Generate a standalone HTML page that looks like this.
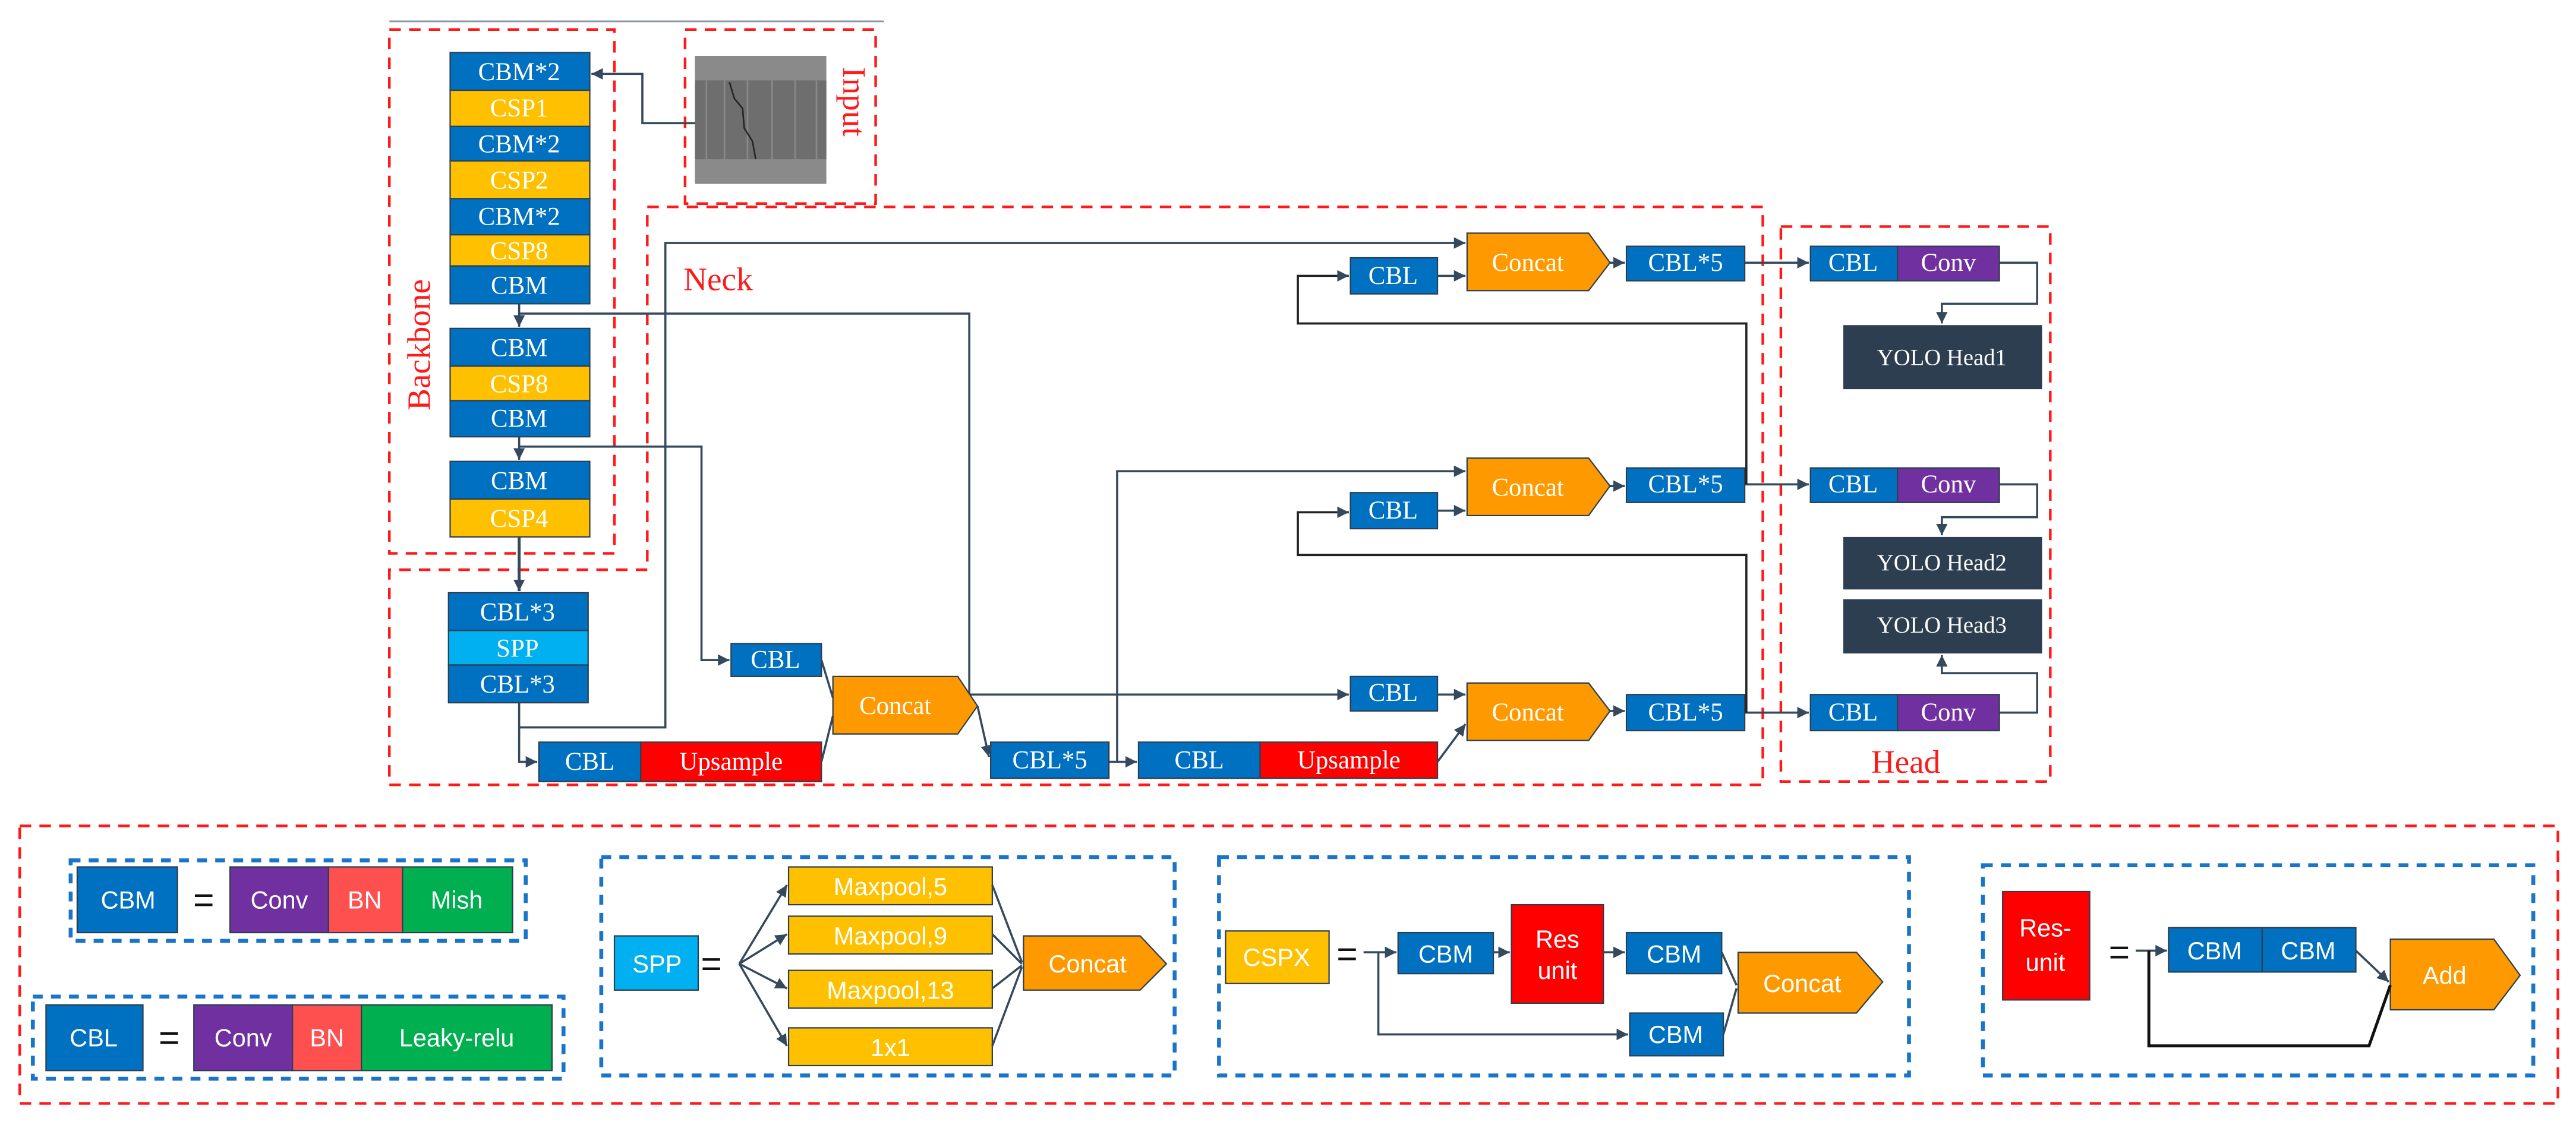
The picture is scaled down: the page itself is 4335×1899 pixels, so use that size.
<!DOCTYPE html>
<html><head><meta charset="utf-8"><style>
html,body{margin:0;padding:0;background:#fff;}
svg{display:block;}
.t{font-family:"Liberation Serif",serif;fill:#fff;text-anchor:middle;dominant-baseline:central;font-size:15.5px;}
.s{font-family:"Liberation Sans",sans-serif;fill:#fff;text-anchor:middle;dominant-baseline:central;font-size:15px;}
.ln{stroke:#34495e;stroke-width:1.3;fill:none;}
.rd{stroke:#ff1a1a;stroke-width:1.6;fill:none;stroke-dasharray:7,5;}
.bd{stroke:#1a75c9;stroke-width:2.4;fill:none;stroke-dasharray:6,5;}
.bk{stroke:#2c3e50;stroke-width:0.8;}
</style></head><body>
<svg width="4335" height="1899" viewBox="0 0 1568 687" preserveAspectRatio="none" xmlns="http://www.w3.org/2000/svg">
<defs>
<marker id="a" markerUnits="userSpaceOnUse" markerWidth="8" markerHeight="8" refX="7" refY="4" orient="auto"><path d="M0,0.5 L7,4 L0,7.5 Z" fill="#34495e"/></marker>
</defs>
<rect width="1568" height="687" fill="#fff"/>
<line x1="237" y1="13" x2="538" y2="13" stroke="#8a96a3" stroke-width="1"/>
<rect class="rd" x="237" y="18" width="137" height="319"/>
<rect class="rd" x="417" y="18" width="116" height="106"/>
<polygon class="rd" points="394,126 1073,126 1073,478 237,478 237,347 394,347"/>
<rect class="rd" x="1084" y="138" width="164" height="338"/>
<rect class="rd" x="12" y="503" width="1545" height="169"/>
<text x="255" y="210" transform="rotate(-90 255 210)" style="font-family:'Liberation Serif',serif;font-size:20px;fill:#ff1a1a;text-anchor:middle;dominant-baseline:central">Backbone</text>
<text x="520" y="62" transform="rotate(90 520 62)" style="font-family:'Liberation Serif',serif;font-size:20px;fill:#ff1a1a;text-anchor:middle;dominant-baseline:central">Input</text>
<text x="416" y="170" style="font-family:'Liberation Serif',serif;font-size:20px;fill:#ff1a1a;dominant-baseline:central">Neck</text>
<text x="1160" y="464" style="font-family:'Liberation Serif',serif;font-size:20px;fill:#ff1a1a;text-anchor:middle;dominant-baseline:central">Head</text>
<rect x="423" y="34" width="80" height="78" fill="#8a8a8a"/>
<rect x="423" y="49" width="80" height="48" fill="#6e6e6e"/>
<g stroke="#9a9a9a" stroke-width="1" opacity="0.6">
<line x1="430" y1="49" x2="430" y2="97"/><line x1="441" y1="49" x2="441" y2="97"/><line x1="455" y1="49" x2="455" y2="97"/><line x1="470" y1="49" x2="470" y2="97"/><line x1="484" y1="49" x2="484" y2="97"/><line x1="497" y1="49" x2="497" y2="97"/></g>
<path d="M444,50 L447,60 L452,66 L453,78 L458,86 L460,97" stroke="#222" stroke-width="0.9" fill="none"/>
<g class="bk">
<rect x="274" y="32" width="85" height="23" fill="#0070c0"/>
<rect x="274" y="55" width="85" height="22" fill="#ffc000"/>
<rect x="274" y="77" width="85" height="21" fill="#0070c0"/>
<rect x="274" y="98" width="85" height="23" fill="#ffc000"/>
<rect x="274" y="121" width="85" height="22" fill="#0070c0"/>
<rect x="274" y="143" width="85" height="19" fill="#ffc000"/>
<rect x="274" y="162" width="85" height="23" fill="#0070c0"/>
<rect x="274" y="200" width="85" height="23" fill="#0070c0"/>
<rect x="274" y="223" width="85" height="21" fill="#ffc000"/>
<rect x="274" y="244" width="85" height="22" fill="#0070c0"/>
<rect x="274" y="281" width="85" height="23" fill="#0070c0"/>
<rect x="274" y="304" width="85" height="23" fill="#ffc000"/>
<rect x="273" y="361" width="85" height="23" fill="#0070c0"/>
<rect x="273" y="384" width="85" height="21" fill="#00b0f0"/>
<rect x="273" y="405" width="85" height="23" fill="#0070c0"/>
</g>
<text class="t" x="316" y="44">CBM*2</text><text class="t" x="316" y="66">CSP1</text>
<text class="t" x="316" y="88">CBM*2</text><text class="t" x="316" y="110">CSP2</text>
<text class="t" x="316" y="132">CBM*2</text><text class="t" x="316" y="153">CSP8</text>
<text class="t" x="316" y="174">CBM</text><text class="t" x="316" y="212">CBM</text>
<text class="t" x="316" y="234">CSP8</text><text class="t" x="316" y="255">CBM</text>
<text class="t" x="316" y="293">CBM</text><text class="t" x="316" y="316">CSP4</text>
<text class="t" x="315" y="373">CBL*3</text><text class="t" x="315" y="395">SPP</text>
<text class="t" x="315" y="417">CBL*3</text>
<path class="ln" d="M423,75 H391 V45 H360" marker-end="url(#a)"/>
<path class="ln" d="M316,185 V199" marker-end="url(#a)"/>
<path class="ln" d="M316,266 V280" marker-end="url(#a)"/>
<path class="ln" d="M316,327 V360" marker-end="url(#a)" style="stroke-width:1.8"/>
<path class="ln" d="M316,191 H590 V423 H821" marker-end="url(#a)"/>
<path class="ln" d="M316,272 H427 V402 H444" marker-end="url(#a)"/>
<path class="ln" d="M316,428 V464 H327" marker-end="url(#a)"/>
<path class="ln" d="M316,443 H405 V148 H892" marker-end="url(#a)"/>
<g class="bk">
<rect x="445" y="392" width="55" height="20" fill="#0070c0"/>
<rect x="328" y="452" width="62" height="24" fill="#0070c0"/>
<rect x="390" y="452" width="110" height="24" fill="#ff0000"/>
<rect x="603" y="452" width="72" height="22" fill="#0070c0"/>
<rect x="693" y="452" width="74" height="22" fill="#0070c0"/>
<rect x="767" y="452" width="108" height="22" fill="#ff0000"/>
<rect x="822" y="412" width="53" height="21" fill="#0070c0"/>
<rect x="822" y="300" width="53" height="22" fill="#0070c0"/>
<rect x="822" y="157" width="53" height="22" fill="#0070c0"/>
<rect x="990" y="150" width="72" height="21" fill="#0070c0"/>
<rect x="990" y="285" width="72" height="21" fill="#0070c0"/>
<rect x="990" y="423" width="72" height="22" fill="#0070c0"/>
<polygon points="507,412 583,412 595,430 583,447 507,447" fill="#ff9900"/>
<polygon points="893,142 967,142 980,160 967,177 893,177" fill="#ff9900"/>
<polygon points="893,279 967,279 980,296 967,314 893,314" fill="#ff9900"/>
<polygon points="893,416 967,416 980,433 967,451 893,451" fill="#ff9900"/>
</g>
<text class="t" x="472" y="402">CBL</text>
<text class="t" x="359" y="464">CBL</text><text class="t" x="445" y="464">Upsample</text>
<text class="t" x="639" y="463">CBL*5</text>
<text class="t" x="730" y="463">CBL</text><text class="t" x="821" y="463">Upsample</text>
<text class="t" x="848" y="422">CBL</text><text class="t" x="848" y="311">CBL</text><text class="t" x="848" y="168">CBL</text>
<text class="t" x="1026" y="160">CBL*5</text><text class="t" x="1026" y="295">CBL*5</text><text class="t" x="1026" y="434">CBL*5</text>
<text class="t" x="545" y="430">Concat</text><text class="t" x="930" y="160">Concat</text>
<text class="t" x="930" y="297">Concat</text><text class="t" x="930" y="434">Concat</text>
<path class="ln" d="M500,402 L507,425"/>
<path class="ln" d="M500,464 L507,436"/>
<path class="ln" d="M595,430 L602,461" marker-end="url(#a)"/>
<path class="ln" d="M675,464 H692" marker-end="url(#a)"/>
<path class="ln" d="M680,464 V287 H892" marker-end="url(#a)"/>
<path class="ln" d="M875,423 H892" marker-end="url(#a)"/>
<path class="ln" d="M875,464 L892,441" marker-end="url(#a)"/>
<path class="ln" d="M875,311 H892" marker-end="url(#a)"/>
<path class="ln" d="M875,168 H892" marker-end="url(#a)"/>
<path class="ln" d="M980,160 H989" marker-end="url(#a)"/>
<path class="ln" d="M980,296 H989" marker-end="url(#a)"/>
<path class="ln" d="M980,433 H989" marker-end="url(#a)"/>
<path class="ln" d="M1062,434 H1101" marker-end="url(#a)"/>
<path class="ln" d="M1062,295 H1101" marker-end="url(#a)"/>
<path class="ln" d="M1062,160 H1101" marker-end="url(#a)"/>
<path class="ln" d="M1063,434 V338 H790 V312 H821" marker-end="url(#a)" style="stroke:#222"/>
<path class="ln" d="M1063,295 V197 H790 V168 H821" marker-end="url(#a)" style="stroke:#222"/>
<g class="bk">
<rect x="1102" y="150" width="53" height="21" fill="#0070c0"/><rect x="1155" y="150" width="62" height="21" fill="#7030a0"/>
<rect x="1102" y="285" width="53" height="21" fill="#0070c0"/><rect x="1155" y="285" width="62" height="21" fill="#7030a0"/>
<rect x="1102" y="423" width="53" height="22" fill="#0070c0"/><rect x="1155" y="423" width="62" height="22" fill="#7030a0"/>
</g>
<rect x="1122" y="198" width="121" height="39" fill="#2c3e50"/>
<rect x="1122" y="327" width="121" height="32" fill="#2c3e50"/>
<rect x="1122" y="365" width="121" height="33" fill="#2c3e50"/>
<text class="t" x="1128" y="160">CBL</text><text class="t" x="1186" y="160">Conv</text>
<text class="t" x="1128" y="295">CBL</text><text class="t" x="1186" y="295">Conv</text>
<text class="t" x="1128" y="434">CBL</text><text class="t" x="1186" y="434">Conv</text>
<text class="t" x="1182" y="218" style="font-size:14px">YOLO Head1</text>
<text class="t" x="1182" y="343" style="font-size:14px">YOLO Head2</text>
<text class="t" x="1182" y="381" style="font-size:14px">YOLO Head3</text>
<path class="ln" d="M1217,160 H1240 V185 H1182 V197" marker-end="url(#a)"/>
<path class="ln" d="M1217,295 H1240 V315 H1182 V326" marker-end="url(#a)"/>
<path class="ln" d="M1217,434 H1240 V410 H1182 V399" marker-end="url(#a)"/>
<rect class="bd" x="43" y="524" width="277" height="49"/>
<rect class="bd" x="20" y="607" width="323" height="50"/>
<rect class="bd" x="366" y="522" width="349" height="133"/>
<rect class="bd" x="742" y="522" width="420" height="133"/>
<rect class="bd" x="1207" y="527" width="335" height="128"/>
<g class="bk">
<rect x="47" y="528" width="61" height="40" fill="#0070c0"/>
<rect x="140" y="528" width="60" height="40" fill="#7030a0"/><rect x="200" y="528" width="45" height="40" fill="#ff5050"/><rect x="245" y="528" width="67" height="40" fill="#00b050"/>
<rect x="28" y="612" width="59" height="40" fill="#0070c0"/>
<rect x="118" y="612" width="60" height="40" fill="#7030a0"/><rect x="178" y="612" width="42" height="40" fill="#ff5050"/><rect x="220" y="612" width="116" height="40" fill="#00b050"/>
<rect x="374" y="570" width="51" height="33" fill="#00b0f0"/>
<rect x="480" y="528" width="124" height="23" fill="#ffc000"/>
<rect x="480" y="558" width="124" height="23" fill="#ffc000"/>
<rect x="480" y="591" width="124" height="23" fill="#ffc000"/>
<rect x="480" y="626" width="124" height="23" fill="#ffc000"/>
<polygon points="623,570 694,570 710,587 694,603 623,603" fill="#ff9900"/>
<rect x="746" y="567" width="63" height="32" fill="#ffc000"/>
<rect x="851" y="568" width="58" height="25" fill="#0070c0"/>
<rect x="920" y="551" width="56" height="60" fill="#ff0000"/>
<rect x="990" y="568" width="58" height="25" fill="#0070c0"/>
<rect x="992" y="617" width="57" height="26" fill="#0070c0"/>
<polygon points="1058,580 1130,580 1146,598 1130,617 1058,617" fill="#ff9900"/>
<rect x="1219" y="543" width="53" height="66" fill="#ff0000"/>
<rect x="1320" y="565" width="57" height="27" fill="#0070c0"/><rect x="1377" y="565" width="57" height="27" fill="#0070c0"/>
<polygon points="1455,572 1518,572 1534,594 1518,615 1455,615" fill="#ff9900"/>
</g>
<text class="s" x="78" y="548">CBM</text><text class="s" x="170" y="548">Conv</text><text class="s" x="222" y="548">BN</text><text class="s" x="278" y="548">Mish</text>
<text class="s" x="57" y="632">CBL</text><text class="s" x="148" y="632">Conv</text><text class="s" x="199" y="632">BN</text><text class="s" x="278" y="632">Leaky-relu</text>
<text class="s" x="400" y="587">SPP</text>
<text class="s" x="542" y="540">Maxpool,5</text><text class="s" x="542" y="570">Maxpool,9</text>
<text class="s" x="542" y="603">Maxpool,13</text><text class="s" x="542" y="638">1x1</text>
<text class="s" x="662" y="587">Concat</text>
<text class="s" x="777" y="583">CSPX</text>
<text class="s" x="880" y="581">CBM</text>
<text class="s" x="948" y="572">Res</text><text class="s" x="948" y="591">unit</text>
<text class="s" x="1019" y="581">CBM</text><text class="s" x="1020" y="630">CBM</text>
<text class="s" x="1097" y="599">Concat</text>
<text class="s" x="1245" y="565">Res-</text><text class="s" x="1245" y="586">unit</text>
<text class="s" x="1348" y="579">CBM</text><text class="s" x="1405" y="579">CBM</text>
<text class="s" x="1488" y="594">Add</text>
<g style="font-family:'Liberation Sans',sans-serif;font-size:22px;fill:#111;text-anchor:middle;dominant-baseline:central">
<text x="124" y="548">=</text><text x="103" y="632">=</text><text x="433" y="587">=</text><text x="820" y="581">=</text><text x="1290" y="580">=</text></g>
<g class="ln">
<path d="M450,587 L479,539" marker-end="url(#a)"/><path d="M450,587 L479,569" marker-end="url(#a)"/>
<path d="M450,587 L479,602" marker-end="url(#a)"/><path d="M450,587 L479,637" marker-end="url(#a)"/>
<path d="M604,539 L622,586"/><path d="M604,569 L622,587"/><path d="M604,602 L622,588"/><path d="M604,637 L622,589"/>
<path d="M830,580 H850" marker-end="url(#a)"/>
<path d="M839,580 V630 H991" marker-end="url(#a)"/>
<path d="M909,580 H919" marker-end="url(#a)"/>
<path d="M976,580 H989" marker-end="url(#a)"/>
<path d="M1048,580 L1057,600"/><path d="M1049,630 L1057,602"/>
<path d="M1300,579 H1319" marker-end="url(#a)"/>
<path d="M1308,579 V637 H1442 L1455,600" style="stroke:#111;stroke-width:1.8"/>
<path d="M1434,579 L1454,598" marker-end="url(#a)"/>
</g>
</svg>
</body></html>
